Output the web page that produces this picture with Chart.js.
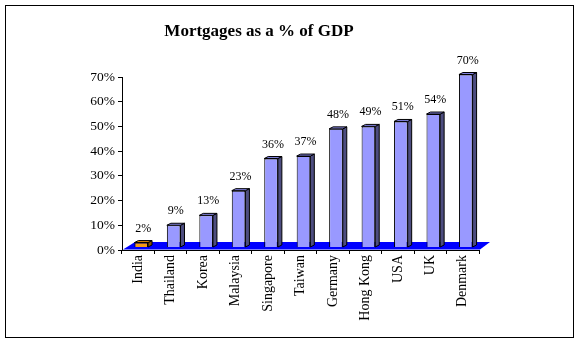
<!DOCTYPE html>
<html>
<head>
<meta charset="utf-8">
<script src="https://cdn.jsdelivr.net/npm/chart.js@4/dist/chart.umd.min.js"></script>
<style>
html,body{margin:0;padding:0;background:#fff;}
#c{display:block;}
</style>
</head>
<body>
<canvas id="c" width="580" height="343"></canvas>
<script>
const categories = ["India","Thailand","Korea","Malaysia","Singapore","Taiwan","Germany","Hong Kong","USA","UK","Denmark"];
const mortgagePct = [2, 9, 13, 23, 36, 37, 48, 49, 51, 54, 70];
const yTicks = [0, 10, 20, 30, 40, 50, 60, 70];
const titleText = "Mortgages as a % of GDP";

const SERIF = "'Liberation Serif','Times New Roman',serif";
const DX = 3, DY = -2.5;     // bar set-back into the 3D floor
const DEPTH_X = 4, DEPTH_Y = -2;

function shade(i, kind){
  const india = categories[i] === "India";
  if (kind === 'front') return india ? '#F59A12' : '#9999FF';
  if (kind === 'top') return india ? '#D88408' : '#8080DD';
  return india ? '#8A5200' : '#4D4D80';
}

const frame = {
  id: 'frame',
  beforeDraw(chart){
    const ctx = chart.ctx;
    ctx.save();
    ctx.fillStyle = '#fff';
    ctx.fillRect(0,0,chart.width,chart.height);
    ctx.strokeStyle = '#000';
    ctx.lineWidth = 1;
    ctx.strokeRect(5.5,5.5,568,332);
    ctx.fillStyle = '#000';
    ctx.font = 'bold 17px ' + SERIF;
    ctx.textAlign = 'center';
    ctx.textBaseline = 'alphabetic';
    ctx.fillText(titleText, 259, 36);
    ctx.restore();
  },
  beforeDatasetsDraw(chart){
    const ctx = chart.ctx, a = chart.chartArea;
    ctx.save();
    ctx.fillStyle = '#0000FF';
    ctx.beginPath();
    ctx.moveTo(a.left + 1, a.bottom - 0.5);
    ctx.lineTo(a.right + 1, a.bottom - 0.5);
    ctx.lineTo(a.right + 11, a.bottom - 8);
    ctx.lineTo(a.left + 13, a.bottom - 8);
    ctx.closePath();
    ctx.fill();
    ctx.restore();
    ctx.save();
    ctx.translate(DX, DY);
  },
  afterDatasetsDraw(chart){
    const ctx = chart.ctx;
    const meta = chart.getDatasetMeta(0);
    meta.data.forEach((bar, i) => {
      const p = bar.getProps(['x','y','base','width'], true);
      const l = p.x - p.width/2, r = p.x + p.width/2;
      ctx.lineWidth = 1;
      ctx.strokeStyle = '#000';
      ctx.beginPath();
      ctx.moveTo(r, p.y); ctx.lineTo(r + DEPTH_X, p.y + DEPTH_Y);
      ctx.lineTo(r + DEPTH_X, p.base + DEPTH_Y); ctx.lineTo(r, p.base);
      ctx.closePath();
      ctx.fillStyle = shade(i,'side'); ctx.fill(); ctx.stroke();
      ctx.beginPath();
      ctx.moveTo(l, p.y); ctx.lineTo(l + DEPTH_X, p.y + DEPTH_Y);
      ctx.lineTo(r + DEPTH_X, p.y + DEPTH_Y); ctx.lineTo(r, p.y);
      ctx.closePath();
      ctx.fillStyle = shade(i,'top'); ctx.fill(); ctx.stroke();
    });
    ctx.restore();
    ctx.save();
    ctx.fillStyle = '#000';
    ctx.font = '12px ' + SERIF;
    ctx.textAlign = 'center';
    ctx.textBaseline = 'alphabetic';
    meta.data.forEach((bar, i) => {
      const p = bar.getProps(['x','y'], true);
      ctx.fillText(chart.data.datasets[0].data[i] + '%', p.x + 5, p.y - 13.5);
    });
    ctx.restore();
  }
};

new Chart(document.getElementById('c'), {
  type: 'bar',
  data: {
    labels: categories,
    datasets: [{
      data: mortgagePct,
      backgroundColor: categories.map((c,i)=>shade(i,'front')),
      borderColor: '#000',
      borderWidth: 1,
      categoryPercentage: 1,
      barPercentage: 0.42
    }]
  },
  options: {
    responsive: false,
    animation: false,
    devicePixelRatio: 1,
    layout: { padding: { top: 77, right: 101, left: 0, bottom: 0 } },
    plugins: { legend: { display: false }, tooltip: { enabled: false }, title: { display: false } },
    scales: {
      y: {
        min: 0, max: 70,
        afterFit(s){ s.width = 122; },
        afterBuildTicks(s){ s.ticks = yTicks.map(v => ({value: v})); },
        ticks: { color: '#000', font: { family: SERIF, size: 13.5 }, padding: 3, callback: v => v + '%' },
        grid: { drawOnChartArea: false, drawTicks: true, tickLength: 4, color: '#000' },
        border: { display: true, color: '#000' }
      },
      x: {
        afterFit(s){ s.height = 93; },
        ticks: { color: '#000', font: { family: SERIF, size: 14 }, padding: 1, minRotation: 90, maxRotation: 90, autoSkip: false },
        grid: { drawOnChartArea: false, drawTicks: true, tickLength: 4, color: '#000', offset: true },
        border: { display: true, color: '#000' }
      }
    }
  },
  plugins: [frame]
});
</script>
</body>
</html>
